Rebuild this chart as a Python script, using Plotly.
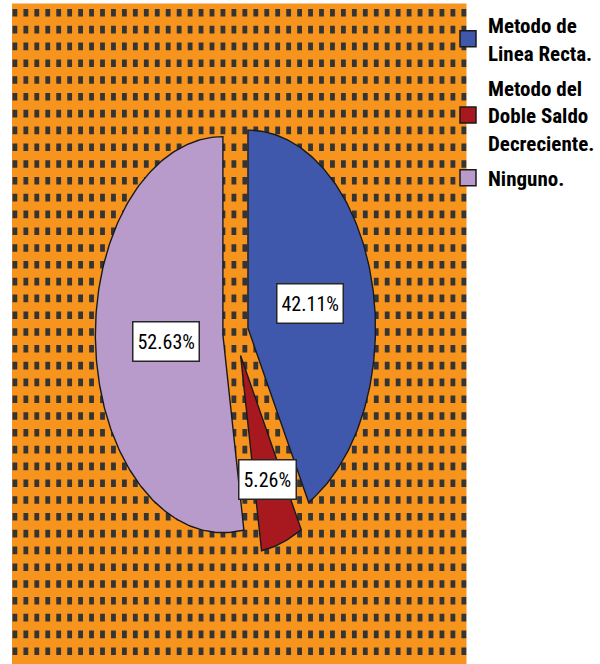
import numpy as np
import plotly.graph_objects as go

# datos del grafico
categorias = ["Metodo de<br>Linea Recta.", "Metodo del<br>Doble Saldo<br>Decreciente.", "Ninguno."]
porcentajes = [42.11, 5.26, 52.63]
etiquetas = [f"{p:.2f}%" for p in porcentajes]

# estilo
colores = ["#3F58AC", "#A8191F", "#B89BCB"]
separacion = [0.1, 0.12, 0.1]      # explode of each slice (fraction of radius)
pos_etiqueta = [0.5, 0.66, 0.45]   # label distance from slice tip (fraction of radius)
FUENTE = "Roboto Condensed, DejaVu Sans Condensed, Liberation Sans Narrow, Arial Narrow, sans-serif"

W, H = 600, 664
CX, CY = 235.6, 333      # pie centre in px
RX, RY = 127.5, 198      # the SPSS picture is stretched, so the pie is an ellipse

fig = go.Figure()

total = sum(porcentajes)
inicio = 0.0
for nombre, pct, color, sep, pe, txt in zip(categorias, porcentajes, colores,
                                            separacion, pos_etiqueta, etiquetas):
    a0 = inicio / total * 2 * np.pi
    a1 = (inicio + pct) / total * 2 * np.pi
    mid = (a0 + a1) / 2
    ox, oy = sep * np.sin(mid), sep * np.cos(mid)
    t = np.linspace(a0, a1, max(int(np.degrees(a1 - a0)), 2) + 1)
    xs = np.concatenate([[ox], ox + np.sin(t), [ox]])
    ys = np.concatenate([[oy], oy + np.cos(t), [oy]])
    # slice
    fig.add_trace(go.Scatter(x=xs, y=ys, mode="lines", fill="toself", fillcolor=color,
                             line=dict(color="#1a1a1a", width=1.4), showlegend=False,
                             hoverinfo="skip", legendgroup=nombre))
    # legend key
    fig.add_trace(go.Scatter(x=[None], y=[None], mode="markers", name=nombre, legendgroup=nombre,
                             marker=dict(symbol="square", size=16, color=color,
                                         line=dict(color="#1a1a1a", width=1.5))))
    # percentage label
    fig.add_annotation(x=ox + pe * np.sin(mid), y=oy + pe * np.cos(mid), text=txt,
                       showarrow=False, font=dict(family=FUENTE, size=20, color="black"),
                       bgcolor="white", bordercolor="#262626", borderwidth=1.5, borderpad=4,
                       height=30)
    inicio += pct

# orange background with the dark dash pattern
fig.add_shape(type="rect", xref="paper", yref="paper", x0=12 / W, x1=466.5 / W,
              y0=0, y1=1 - 3.5 / H, fillcolor="#F7941E", line_width=0, layer="below")

partes = []
y = 9.0
while y < H:
    x = 12.5
    while x < 466:
        x1 = min(x + 4.8, 466.5)
        y1 = min(y + 7.6, H)
        partes.append("M%.5f,%.5fH%.5fV%.5fH%.5fZ" % (x / W, 1 - y / H, x1 / W, 1 - y1 / H, x / W))
        x += 10.95
    y += 16.8
fig.add_shape(type="path", xref="paper", yref="paper", path="".join(partes),
              fillcolor="#343434", line_width=0, layer="below")

fig.update_xaxes(range=[-CX / RX, (W - CX) / RX], visible=False, fixedrange=True)
fig.update_yaxes(range=[(CY - H) / RY, CY / RY], visible=False, fixedrange=True)

fig.update_layout(
    width=W, height=H,
    margin=dict(l=0, r=0, t=0, b=0, autoexpand=False),
    paper_bgcolor="white", plot_bgcolor="rgba(0,0,0,0)",
    legend=dict(x=448 / W, xanchor="left", y=1 - 5 / H, yanchor="top",
                bgcolor="rgba(0,0,0,0)", tracegroupgap=5, valign="middle",
                font=dict(family=FUENTE, size=21, color="black", weight="bold")),
)

# page body has an 8px default margin; drop it so the figure fills the window
fig.write_html("out.html", config={"displayModeBar": False},
               post_script="document.body.style.margin = '0';")
